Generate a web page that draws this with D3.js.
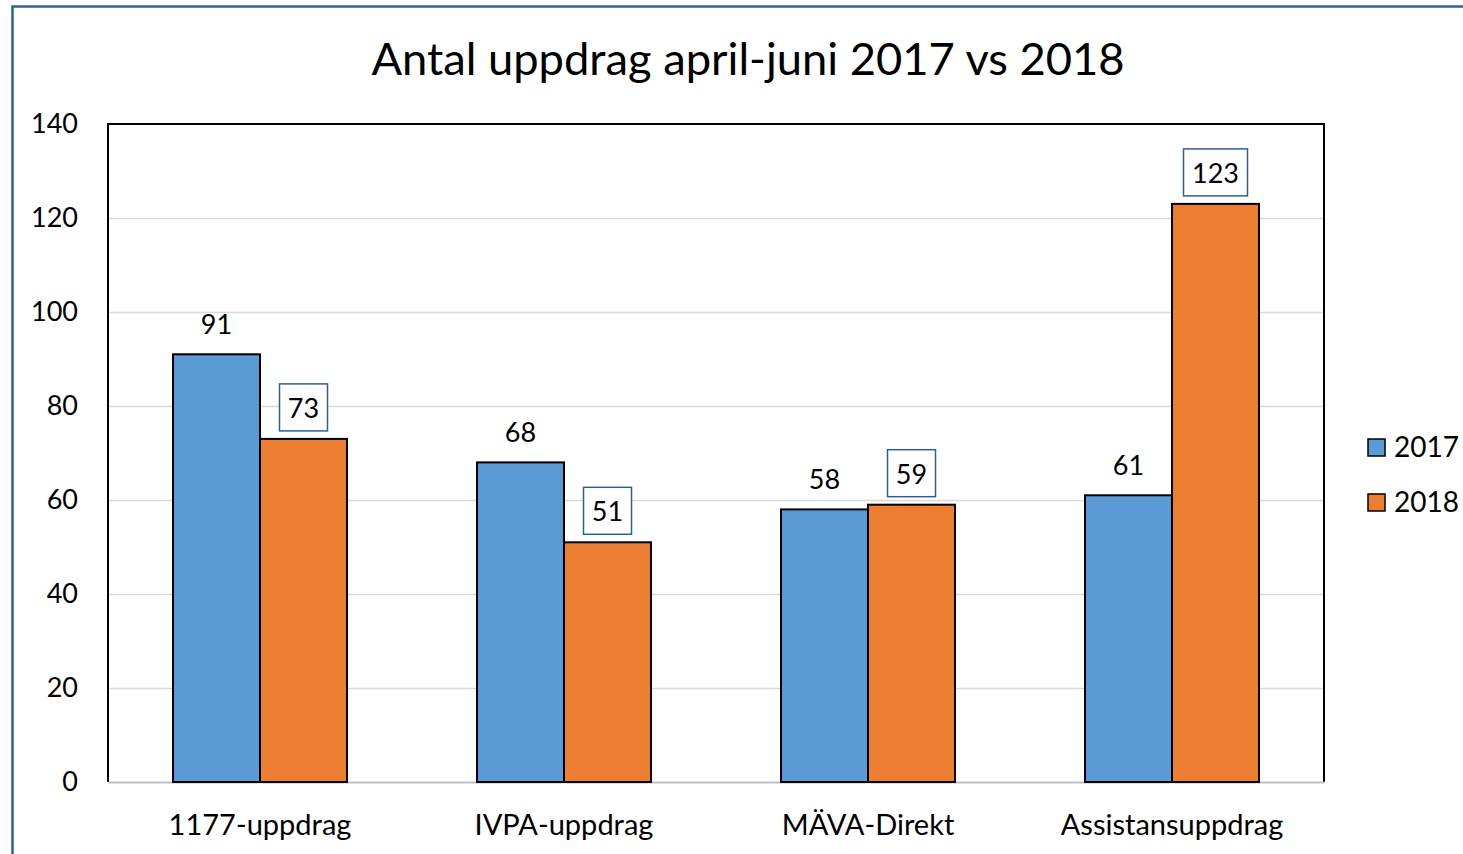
<!DOCTYPE html>
<html>
<head>
<meta charset="utf-8">
<script src="https://cdnjs.cloudflare.com/ajax/libs/d3/7.8.5/d3.min.js"></script>
<style>
    html, body { margin:0; padding:0; background:#fff; }
    svg { display:block; font-family: Lato, "Open Sans", sans-serif; }
    .grid line { stroke:#d9d9d9; stroke-width:1.5; }
    .grid path { display:none; }
</style>
</head>
<body>
<svg width="1463" height="854"></svg>
<script>
    // data
    var categories = ["1177-uppdrag", "IVPA-uppdrag", "MÄVA-Direkt", "Assistansuppdrag"];
    var years = ["2017", "2018"];
    var values2017 = [91, 68, 58, 61];
    var values2018 = [73, 51, 59, 123];
    var yTicks = [0, 20, 40, 60, 80, 100, 120, 140];

    var colors = {"2017": "#5b9bd5", "2018": "#ed7d31"};

    var svg = d3.select("svg");
    var plot = {left: 108, right: 1324, top: 124, bottom: 782};

    // outer frame (only top and left are in view)
    svg.append("path")
        .attr("d", "M12.5,854 L12.5,6.5 L1463,6.5")
        .attr("fill", "none")
        .attr("stroke", "#2f5f98")
        .attr("stroke-width", 2.5);

    svg.append("text")
        .attr("x", 748)
        .attr("y", 75)
        .attr("text-anchor", "middle")
        .attr("font-size", 45.3)
        .attr("fill", "#000")
        .text("Antal uppdrag april-juni 2017 vs 2018");

    var x = d3.scaleBand().domain(categories).range([plot.left, plot.right]).paddingInner(0).paddingOuter(0);
    var x1 = d3.scaleBand().domain(years).range([0, 174]);
    var y = d3.scaleLinear().domain([0, 140]).range([plot.bottom, plot.top]);

    // gridlines
    svg.append("g")
        .attr("class", "grid")
        .attr("transform", "translate(" + plot.left + ",0)")
        .call(d3.axisRight(y).tickValues(yTicks.slice(1, -1)).tickSize(plot.right - plot.left).tickFormat(""));

    // plot border (top, left, right)
    svg.append("path")
        .attr("d", "M" + plot.left + "," + plot.bottom + " L" + plot.left + "," + plot.top +
            " L" + plot.right + "," + plot.top + " L" + plot.right + "," + plot.bottom)
        .attr("fill", "none")
        .attr("stroke", "#000")
        .attr("stroke-width", 2);

    // y tick labels
    svg.append("g")
        .attr("transform", "translate(" + plot.left + ",0)")
        .call(d3.axisLeft(y).tickValues(yTicks).tickSize(0).tickPadding(30))
        .call(function(g) { g.select(".domain").remove(); })
        .selectAll("text")
        .attr("font-size", 27)
        .attr("font-family", "Lato, sans-serif")
        .attr("fill", "#000");

    // x axis
    var xAxis = svg.append("g")
        .attr("transform", "translate(0," + plot.bottom + ")")
        .call(d3.axisBottom(x).tickSize(0).tickPadding(32));
    xAxis.select(".domain").attr("stroke", "#bfbfbf").attr("stroke-width", 2);
    xAxis.selectAll("text")
        .attr("font-size", 29)
        .attr("font-family", "Lato, sans-serif")
        .attr("fill", "#000");

    var rows = categories.map(function(c, i) {
        return {cat: c, vals: [{year: "2017", v: values2017[i]}, {year: "2018", v: values2018[i]}]};
    });

    var group = svg.selectAll(".grp")
        .data(rows)
        .enter().append("g")
        .attr("transform", function(d) { return "translate(" + (x(d.cat) + x.bandwidth() / 2 - 87) + ",0)"; });

    var bar = group.selectAll(".bar")
        .data(function(d) { return d.vals; })
        .enter().append("g");

    bar.append("rect")
        .attr("x", function(d) { return x1(d.year); })
        .attr("y", function(d) { return y(d.v); })
        .attr("width", x1.bandwidth())
        .attr("height", function(d) { return plot.bottom - y(d.v); })
        .attr("fill", function(d) { return colors[d.year]; })
        .attr("stroke", "#000")
        .attr("stroke-width", 2);

    // label boxes for 2018
    bar.filter(function(d) { return d.year === "2018"; })
        .append("rect")
        .attr("x", function(d) { return x1(d.year) + x1.bandwidth() / 2 - (d.v >= 100 ? 32 : 24); })
        .attr("y", function(d) { return y(d.v) - 55; })
        .attr("width", function(d) { return d.v >= 100 ? 64 : 48; })
        .attr("height", 47)
        .attr("fill", "#fff")
        .attr("stroke", "#2f5f98")
        .attr("stroke-width", 1.5);

    bar.append("text")
        .attr("x", function(d) { return x1(d.year) + x1.bandwidth() / 2; })
        .attr("y", function(d) { return y(d.v) - (d.year === "2018" ? 21 : 20); })
        .attr("text-anchor", "middle")
        .attr("font-size", 27)
        .attr("fill", "#000")
        .text(function(d) { return d.v; });

    // legend
    var legend = svg.selectAll(".leg")
        .data(years)
        .enter().append("g")
        .attr("transform", function(d, i) { return "translate(1368," + (439 + i * 55) + ")"; });
    legend.append("rect")
        .attr("width", 17).attr("height", 17)
        .attr("fill", function(d) { return colors[d]; })
        .attr("stroke", "#000").attr("stroke-width", 1.5);
    legend.append("text")
        .attr("x", 26).attr("y", 18)
        .attr("font-size", 28)
        .attr("fill", "#000")
        .text(function(d) { return d; });
</script>
</body>
</html>
